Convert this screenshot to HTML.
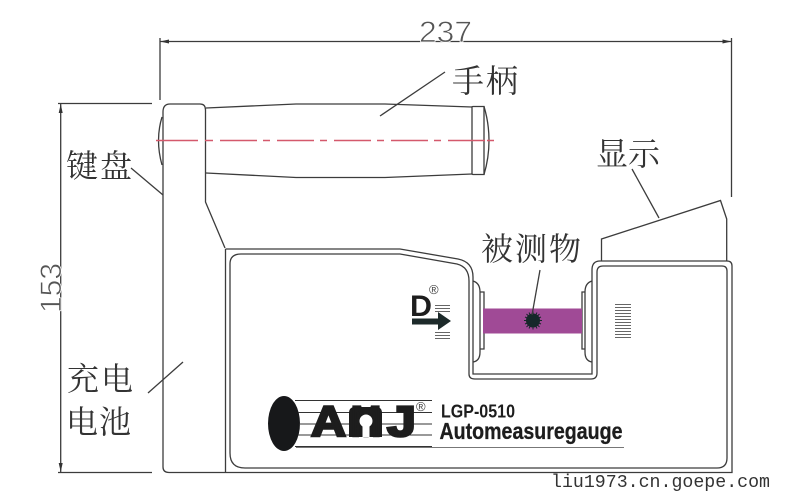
<!DOCTYPE html>
<html lang="zh"><head><meta charset="utf-8"><title>LGP-0510</title>
<style>
html,body{margin:0;padding:0;background:#fff}
svg{display:block}
.cjk{font-family:"Liberation Serif","Noto Serif CJK SC",serif;font-size:32px;fill:#333}
.dim{font-family:"Liberation Sans",sans-serif;font-size:30px;fill:#555;stroke:#fff;stroke-width:.7px;paint-order:fill stroke}
.l{fill:none;stroke:#3c3c3c;stroke-width:1.3}
.b{font-family:"Liberation Sans",sans-serif;font-weight:bold;fill:#1d1d1d}
</style></head><body>
<svg width="802" height="500" viewBox="0 0 802 500" xmlns="http://www.w3.org/2000/svg">
<rect width="802" height="500" fill="#fff"/>

<!-- dimensions -->
<g class="l">
<path d="M160 38V100M731.500 38V197M160 41.500H731.500"/>
<path d="M58 103.500H152M58 472.500H152M60.700 104V472"/>
</g>
<g fill="#333">
<path d="M160 41.500l9 -2v4zM731.500 41.500l-9 -2v4zM60.700 104l-2 9h4zM60.700 472l-2 -9h4z"/>
</g>
<text class="dim" x="419" y="42" textLength="53" lengthAdjust="spacingAndGlyphs">237</text>
<text class="dim" transform="translate(61,313) rotate(-90)" textLength="50" lengthAdjust="spacingAndGlyphs">153</text>

<!-- handle & column -->
<g class="l">
<path d="M206 108L296 104H385L472 107M206 173L296 177.500H385L472 174"/>
<path d="M472 107Q472 106.500 473 106.500H484V174.500H473Q472 174.500 472 173.500Z"/>
<path d="M484 106.500Q489 123 489 140.500Q489 158 484 174.500"/>
<path d="M163 195V112Q163 104 170 104H200Q205.500 104 205.500 110V202L225 248"/>
<path d="M162 117Q155 140 162 165"/>
<path d="M163 195V467Q163 472.500 169 472.500H226"/>
<path d="M225.500 249V472"/>
</g>
<path d="M156 140.500H198M205 140.500H213M220 140.500H257M263 140.500H270M277 140.500H314M320 140.500H327M334 140.500H371M377 140.500H384M391 140.500H428M434 140.500H441M448 140.500H485M487 140.500H494" fill="none" stroke="#d4596c" stroke-width="1.500"/>

<!-- body contours -->
<g class="l">
<path d="M225.500 249H400L458 259Q473 262 473 277V374H592V270Q592 261 600 261H727Q732 261 732 266V472.500H226"/>
<path d="M230 264Q230 254 241 254H400L457 264Q469 267 469 281V374Q469 379 475 379H591Q597 379 597 373V272Q597 266 603 266H722Q727 266 727 271V458Q727 468 717 468H245Q230 468 230 453Z"/>
<path d="M601.500 261V239L720.500 200.500L726.700 219V261"/>
<!-- jaws -->
<path d="M473 281Q480 283 480 292V352Q480 361 473 362"/>
<path d="M480 292H484V349H480"/>
<path d="M592 281Q585 283 585 292V352Q585 361 592 362"/>
<path d="M585 292H582V349H585"/>
</g>

<!-- sample -->
<rect x="483" y="308.500" width="99" height="25" fill="#a04a96"/>
<circle cx="533" cy="320.500" r="7" fill="#16282a"/>
<path d="M533 311.500v18M524 320.500h18M526.500 314l13 13M539.500 314l-13 13M529 312.500l8 16M537 312.500l-8 16M525 317l16 7M541 317l-16 7" stroke="#16282a" stroke-width="1"/>

<!-- leaders -->
<g class="l" stroke-width="1.100">
<path d="M380 116L445 72"/>
<path d="M131 168L163 195"/>
<path d="M148 393L183 362"/>
<path d="M632 169L659 218"/>
<path d="M540 270L532 315"/>
</g>

<!-- D mark -->
<text class="b" x="410" y="316" font-size="30" textLength="22" lengthAdjust="spacingAndGlyphs">D</text>
<path d="M412 318.500H438V312L451 321L438 330V324.500H412Z" fill="#1d2a2a"/>
<text x="429" y="294" font-family="Liberation Sans,sans-serif" font-size="13" fill="#444">®</text>
<g stroke="#666" stroke-width="1">
<path d="M435 305.500H450M435 308.500H450M435 311.500H450M435 332.500H450M435 335.500H450M435 338.500H450"/>
<path d="M615 304.500H631M615 307.500H631M615 310.500H631M615 313.500H631M615 316.500H631M615 319.500H631M615 322.500H631M615 325.500H631M615 328.500H631M615 331.500H631M615 334.500H631M615 337.500H631"/>
</g>

<!-- logo -->
<ellipse cx="284" cy="423.500" rx="16" ry="27.500" fill="#17181a"/>
<g stroke="#333" stroke-width="1">
<path d="M295 400.500H432M298 412.500H432M299 424H432M298 435H432M295 446.500H432"/>
<path d="M296 447.500H624" stroke="#777"/>
</g>
<path d="M349 437V413Q349 407 355 407H376Q382 407 382 413V437Z" fill="#1d1d1d"/>
<g class="b" font-size="43" stroke="#1d1d1d" stroke-width="2.500">
<text x="311" y="436" textLength="35" lengthAdjust="spacingAndGlyphs">A</text>
<text x="351" y="436" textLength="30" lengthAdjust="spacingAndGlyphs">M</text>
<text x="387" y="436" textLength="29" lengthAdjust="spacingAndGlyphs">J</text>
</g>
<path d="M362.500 437V426.500A6.500 6.500 0 1 1 369.500 426.500V437Z" fill="#fff"/>
<text x="416" y="411" font-family="Liberation Sans,sans-serif" font-size="13" fill="#444">®</text>
<text class="b" x="441" y="417.500" font-size="18" textLength="74" lengthAdjust="spacingAndGlyphs">LGP-0510</text>
<text class="b" x="439.500" y="439" font-size="23" textLength="183" lengthAdjust="spacingAndGlyphs" stroke="#1d1d1d" stroke-width=".3">Automeasuregauge</text>

<!-- labels -->
<text class="cjk" x="452" y="92" textLength="66">手柄</text>
<text class="cjk" x="596" y="165" textLength="64">显示</text>
<text class="cjk" x="66" y="177" textLength="66">键盘</text>
<text class="cjk" x="67" y="390" textLength="66">充电</text>
<text class="cjk" x="66" y="433" textLength="65">电池</text>
<text class="cjk" x="481" y="260" textLength="100">被测物</text>

<text x="551" y="487" font-family="Liberation Mono,monospace" font-size="18" fill="#333" textLength="219" lengthAdjust="spacingAndGlyphs">liu1973.cn.goepe.com</text>
</svg>
</body></html>
